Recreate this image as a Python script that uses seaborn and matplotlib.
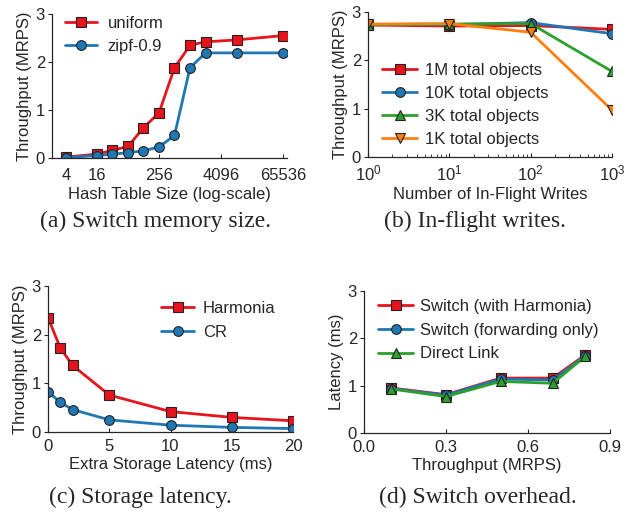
import numpy as np
import pandas as pd
import seaborn as sns
import matplotlib.pyplot as plt

# (a) switch memory size
hash_sizes = [4, 16, 32, 64, 128, 256, 512, 1024, 2048, 8192, 65536]
uniform_tput = [0.02, 0.08, 0.16, 0.24, 0.63, 0.94, 1.88, 2.35, 2.42, 2.46, 2.55]
zipf_tput = [0.01, 0.05, 0.08, 0.11, 0.15, 0.23, 0.47, 1.88, 2.19, 2.19, 2.19]

# (b) in-flight writes
inflight = [1, 10, 100, 1000]
obj_1m = [2.73, 2.71, 2.72, 2.64]
obj_10k = [2.74, 2.74, 2.78, 2.55]
obj_3k = [2.74, 2.75, 2.76, 1.77]
obj_1k = [2.75, 2.76, 2.58, 0.97]

# (c) storage latency
extra_lat = [0, 1, 2, 5, 10, 15, 20]
harmonia_tput = [2.35, 1.73, 1.37, 0.76, 0.42, 0.30, 0.23]
cr_tput = [0.83, 0.61, 0.46, 0.25, 0.14, 0.095, 0.07]

# (d) switch overhead
load_tput = [0.10, 0.30, 0.50, 0.69, 0.81]
lat_harmonia = [0.95, 0.81, 1.16, 1.16, 1.65]
lat_fwd = [0.94, 0.80, 1.14, 1.12, 1.63]
lat_direct = [0.93, 0.77, 1.09, 1.05, 1.62]

RED = "#e8141c"
BLUE = "#1f77b4"
GREEN = "#2ca02c"
ORANGE = "#ff7f0e"

sns.set_style("ticks")
plt.rcParams["font.family"] = ["Liberation Sans", "DejaVu Sans"]
plt.rcParams["font.size"] = 12
plt.rcParams["axes.linewidth"] = 0.9
plt.rcParams["xtick.direction"] = "in"
plt.rcParams["ytick.direction"] = "out"
plt.rcParams["xtick.major.size"] = 3
plt.rcParams["ytick.major.size"] = 3
plt.rcParams["xtick.minor.size"] = 2

W, H = 631, 514
fig = plt.figure(figsize=(W / 100, H / 100), dpi=100)


def px_axes(left, right, top, bottom):
    return fig.add_axes([left / W, 1 - bottom / H, (right - left) / W, (bottom - top) / H])


def draw(ax, x, y, color, marker, label, ms=7):
    df = pd.DataFrame({"x": x, "y": y})
    sns.lineplot(data=df, x="x", y="y", ax=ax, color=color, marker=marker,
                 markersize=ms, markeredgecolor="#222222", markeredgewidth=0.8,
                 linewidth=2, label=label)


def finish(ax, xlabel, ylabel, xpad=5, lpad=2):
    ax.set_xlabel(xlabel, fontsize=12, labelpad=lpad)
    ax.set_ylabel(ylabel, fontsize=12, labelpad=3)
    ax.set_ylim(0, 3)
    ax.set_yticks([0, 1, 2, 3])
    ax.tick_params(axis="x", labelsize=12, pad=xpad)
    ax.tick_params(axis="y", labelsize=12, pad=2)
    sns.despine(ax=ax)


def legend_at(ax, x, y, hl, tp, sp):
    ax.legend(loc="upper left", bbox_to_anchor=(x / W, 1 - y / H),
              bbox_transform=fig.transFigure, frameon=False, fontsize=12,
              borderpad=0, borderaxespad=0, handlelength=hl,
              handletextpad=tp, labelspacing=sp)


# (a)
ax = px_axes(52, 287, 14, 158)
draw(ax, hash_sizes, uniform_tput, RED, "s", "uniform")
draw(ax, hash_sizes, zipf_tput, BLUE, "o", "zipf-0.9")
ax.set_xscale("log", base=2)
ax.set_xlim(2.15, 78000)
ax.set_xticks([4, 16, 256, 4096, 65536])
ax.set_xticklabels(["4", "16", "256", "4096", "65536"])
ax.minorticks_off()
finish(ax, "Hash Table Size (log-scale)", "Throughput (MRPS)", xpad=7, lpad=3)
legend_at(ax, 65, 16, 1.9, 0.65, 0.45)

# (b)
ax = px_axes(368, 612, 12, 157)
draw(ax, inflight, obj_1m, RED, "s", "1M total objects")
draw(ax, inflight, obj_10k, BLUE, "o", "10K total objects")
draw(ax, inflight, obj_3k, GREEN, "^", "3K total objects")
draw(ax, inflight, obj_1k, ORANGE, "v", "1K total objects")
ax.set_xscale("log")
ax.set_xlim(1, 1000)
finish(ax, "Number of In-Flight Writes", "Throughput (MRPS)")
legend_at(ax, 382, 63, 2.1, 0.5, 0.48)

# (c)
ax = px_axes(48, 293, 286, 432)
draw(ax, extra_lat, harmonia_tput, RED, "s", "Harmonia")
draw(ax, extra_lat, cr_tput, BLUE, "o", "CR")
ax.set_xlim(0, 20)
ax.set_xticks([0, 5, 10, 15, 20])
finish(ax, "Extra Storage Latency (ms)", "Throughput (MRPS)")
legend_at(ax, 161, 301, 2.0, 0.5, 0.52)

# (d)
ax = px_axes(364, 610, 291, 433)
draw(ax, load_tput, lat_harmonia, RED, "s", "Switch (with Harmonia)")
draw(ax, load_tput, lat_fwd, BLUE, "o", "Switch (forwarding only)")
draw(ax, load_tput, lat_direct, GREEN, "^", "Direct Link")
ax.set_xlim(0, 0.9)
ax.set_xticks([0.0, 0.3, 0.6, 0.9])
ax.set_xticklabels(["0.0", "0.3", "0.6", "0.9"])
finish(ax, "Throughput (MRPS)", "Latency (ms)")
legend_at(ax, 378, 299, 2.1, 0.42, 0.52)

captions = [("(a) Switch memory size.", 155, 221), ("(b) In-flight writes.", 475, 221),
            ("(c) Storage latency.", 140, 497), ("(d) Switch overhead.", 478, 497)]
for text, cx, cy in captions:
    fig.text(cx / W, 1 - cy / H, text, ha="center", va="center",
             family=["Liberation Serif", "DejaVu Serif"], fontsize=17)

fig.savefig("out.png", dpi=100)
